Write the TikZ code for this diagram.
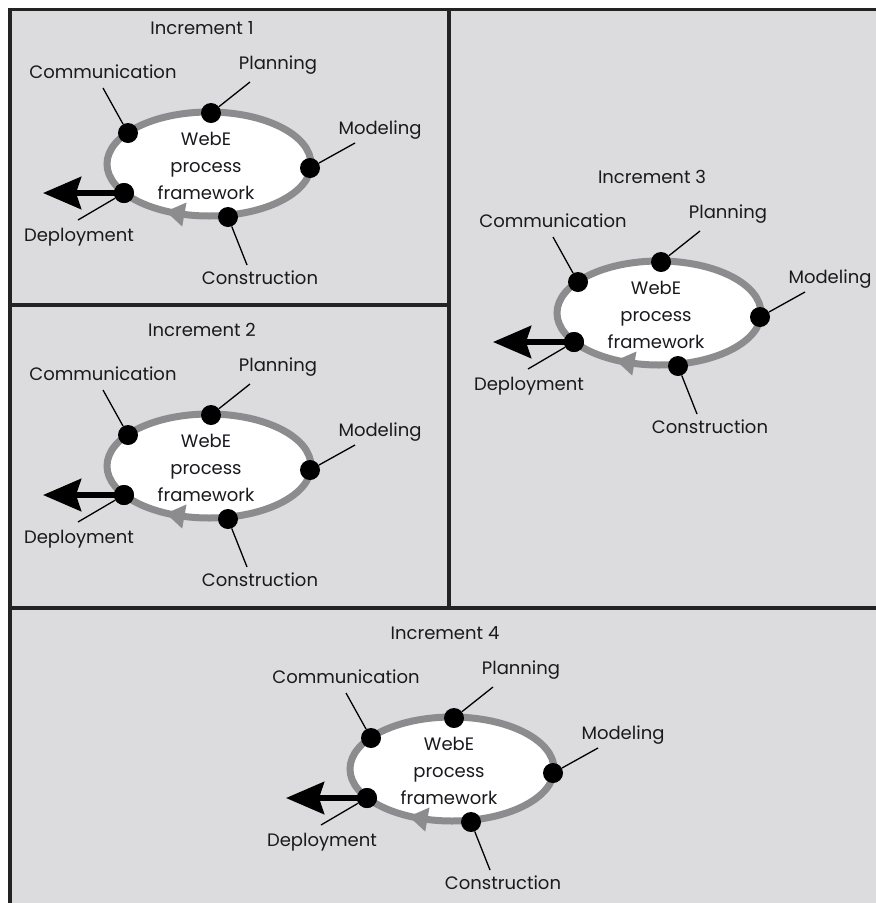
\documentclass[tikz,border=0pt]{standalone}
\usepackage{fontspec}
\setmainfont{Poppins}
\usetikzlibrary{shapes.geometric,arrows.meta}
\definecolor{bgc}{RGB}{220,220,222}
\definecolor{ringc}{RGB}{140,140,142}
\definecolor{framec}{RGB}{35,35,35}
\definecolor{txtc}{RGB}{25,25,30}
\tikzset{
  lbl/.style={font=\fontsize{18}{22}\selectfont, text=txtc, inner sep=0pt},
  ctr/.style={font=\fontsize{18}{27}\selectfont, text=txtc, inner sep=0pt, align=center},
  ring/.style={ellipse, draw=ringc, line width=7pt, fill=white, minimum width=204pt, minimum height=104pt, inner sep=0pt},
  dotnode/.style={circle, fill=black, minimum size=20pt, inner sep=0pt},
  leader/.style={draw=black, line width=1.3pt},
  bigarrow/.style={draw=black, line width=6pt, -{Stealth[length=38pt,width=32pt,inset=5pt]}},
  divider/.style={draw=framec, line width=3.5pt},
  incr/.pic={
    \node[ring] (-ring) at (209,164) {};
    \fill[ringc] (166,211.4) -- (186.5,202.5) -- (182.2,226.6) -- cycle;
    \node[ctr] (-center) at (206,166) {WebE\\process\\framework};
    \node[dotnode] (-dcom) at (128,133) {};
    \node[dotnode] (-dpla) at (211,113) {};
    \node[dotnode] (-dmod) at (310,168) {};
    \node[dotnode] (-dcon) at (228,217) {};
    \node[dotnode] (-ddep) at (124,193) {};
    \coordinate (-lcom) at (103,88);
    \coordinate (-lpla) at (250,82);
    \coordinate (-lmod) at (355,143);
    \coordinate (-lcon) at (247,265);
    \coordinate (-ldep) at (78,220);
    \coordinate (-atip) at (43,193);
    \draw[leader] (-lcom) -- (-dcom);
    \draw[leader] (-lpla) -- (-dpla);
    \draw[leader] (-lmod) -- (-dmod);
    \draw[leader] (-lcon) -- (-dcon);
    \draw[leader] (-ldep) -- (-ddep);
    \draw[bigarrow] (-ddep.center) -- (-atip);
    \node[dotnode] (-ddep2) at (124,193) {};
    \node[lbl] (-title) at (202,28) {Increment #1};
    \node[lbl] (-tcom) at (103,72) {Communication};
    \node[lbl] (-tpla) at (278,65) {Planning};
    \node[lbl] (-tmod) at (380,130) {Modeling};
    \node[lbl] (-tcon) at (260,278) {Construction};
    \node[lbl] (-tdep) at (79,237) {Deployment};
  }
}
\begin{document}
\begin{tikzpicture}[x=1pt,y=-1pt]
\useasboundingbox (0,0) rectangle (876,903);
\fill[white] (0,0) rectangle (876,903);
\fill[bgc] (10,9.5) rectangle (876,903);
\draw[divider] (10,903) -- (10,9.5) -- (876,9.5);
\draw[divider] (449,9.5) -- (449,608);
\draw[divider] (10,305) -- (449,305);
\draw[divider] (10,608) -- (876,608);
\pic (i1) at (0,0) {incr=1};
\pic (i2) at (0,302) {incr=2};
\pic (i3) at (450,149) {incr=3};
\pic (i4) at (243,605) {incr=4};
\end{tikzpicture}
\end{document}
